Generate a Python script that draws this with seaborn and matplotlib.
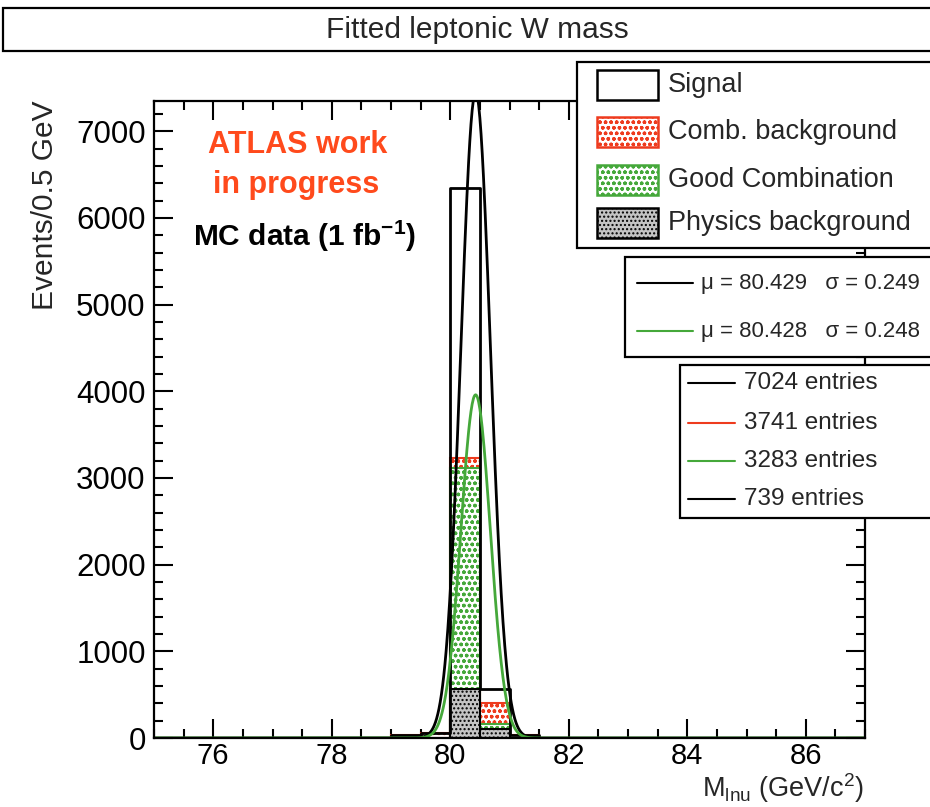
import numpy as np
import pandas as pd
import matplotlib
matplotlib.use("Agg")
import matplotlib.pyplot as plt
import seaborn as sns
from matplotlib.patches import Rectangle
from matplotlib.lines import Line2D

# ---------------- data ----------------
bin_edges = [78.5, 79.0, 79.5, 80.0, 80.5, 81.0, 81.5, 82.0]
signal_counts = [0, 35, 55, 6350, 565, 30, 0]
comb_counts = [0, 35, 55, 3230, 400, 30, 0]
good_counts = [0, 0, 0, 3120, 165, 0, 0]
phys_counts = [0, 0, 0, 565, 100, 0, 0]

fit_mu = [80.429, 80.428]
fit_sigma = [0.249, 0.248]
fit_amp = [7450, 3960]
fit_labels = ["μ = 80.429   σ = 0.249", "μ = 80.428   σ = 0.248"]

entry_counts = [7024, 3741, 3283, 739]
legend_names = ["Signal", "Comb. background", "Good Combination", "Physics background"]

x_ticks = [76, 78, 80, 82, 84, 86]
y_ticks = [0, 1000, 2000, 3000, 4000, 5000, 6000, 7000]

RED = "#ee3b1e"
GREEN = "#45a83a"
ORANGE = "#ff4a1c"

# ---------------- style ----------------
sns.set_theme(style="ticks")
plt.rcParams["font.family"] = ["Liberation Sans", "DejaVu Sans"]
plt.rcParams["mathtext.fontset"] = "custom"
plt.rcParams["mathtext.rm"] = "Liberation Sans"
plt.rcParams["mathtext.bf"] = "Liberation Sans:bold"
plt.rcParams["hatch.linewidth"] = 1.0

W, H = 930, 807
fig = plt.figure(figsize=(W / 100, H / 100), dpi=100)
ax = fig.add_axes([154 / W, 1 - 738 / H, (865 - 154) / W, (738 - 101) / H])


def P(x, y):
    return (x / W, 1 - y / H)


edges = np.array(bin_edges)
centers = (edges[:-1] + edges[1:]) / 2

PHYS_FACE = "#c4c4c4"


def hist_bars(counts, face, edge, hatch, lw):
    n0 = len(ax.patches)
    df = pd.DataFrame({"m": centers, "w": counts})
    sns.histplot(data=df, x="m", weights="w", bins=bin_edges, element="bars",
                 fill=True, ax=ax, legend=False)
    for p in ax.patches[n0:]:
        if p.get_height() <= 0:
            p.set_visible(False)
            continue
        p.set_facecolor(face)
        p.set_edgecolor(edge)
        p.set_hatch(hatch)
        p.set_linewidth(lw)
        p.set_alpha(1)


# Signal outline
df_sig = pd.DataFrame({"m": centers, "w": signal_counts})
sns.histplot(data=df_sig, x="m", weights="w", bins=bin_edges, element="step",
             fill=False, color="black", linewidth=2.0, ax=ax, legend=False)

# comb background (red), good combination (green), physics background (grey)
hist_bars(comb_counts, "white", RED, "ooo", 1.5)
hist_bars(good_counts, "white", GREEN, "ooo", 1.5)
hist_bars(phys_counts, PHYS_FACE, "black", "....", 1.5)

# Gaussian fit curves from the fitted parameters
xs = np.linspace(75, 87, 1201)
for mu, sg, a, col in zip(fit_mu, fit_sigma, fit_amp, ["black", GREEN]):
    ys = a * np.exp(-0.5 * ((xs - mu) / sg) ** 2)
    sns.lineplot(x=xs, y=ys, color=col, linewidth=2.0, ax=ax, legend=False)

# ---------------- axes ----------------
ax.set_xlim(75, 87)
ax.set_ylim(0, 7350)
ax.set_xticks(x_ticks)
ax.set_xticklabels([str(t) for t in x_ticks])
ax.set_yticks(y_ticks)
ax.set_yticklabels([str(t) for t in y_ticks])
ax.set_xticks(np.arange(75, 87.01, 0.5), minor=True)
ax.set_yticks(np.arange(0, 7351, 200), minor=True)
ax.tick_params(which="both", direction="in", top=True, right=True,
               width=1.5, colors="black")
ax.tick_params(which="major", length=14)
ax.tick_params(axis="y", which="major", labelsize=22.5, pad=6)
ax.tick_params(axis="x", which="major", labelsize=21, pad=3)
ax.tick_params(which="minor", length=6.5)
for s in ax.spines.values():
    s.set_linewidth(1.6)
    s.set_color("black")
ax.set_xlabel("")
ax.set_ylabel("")
ax.set_facecolor("white")

fig.text(*P(45, 100), "Events/0.5 GeV", rotation=90, ha="center", va="top",
         fontsize=21.5)
fig.text(*P(864, 797), r"M$_{\mathrm{lnu}}$ (GeV/c$^{2}$)", ha="right",
         va="baseline", fontsize=19.5)

# ---------------- title box ----------------
fig.add_artist(Rectangle(P(3, 51), 950 / W, 43 / H, transform=fig.transFigure,
                         facecolor="white", edgecolor="black", lw=1.6,
                         clip_on=False))
fig.text(*P(477, 30), "Fitted leptonic W mass", ha="center", va="center",
         fontsize=21.5)

# ---------------- annotations ----------------
fig.text(*P(298, 145), "ATLAS work", ha="center", va="center", fontsize=22,
         fontweight="bold", color=ORANGE)
fig.text(*P(296, 185), "in progress", ha="center", va="center", fontsize=22,
         fontweight="bold", color=ORANGE)
fig.text(*P(193, 236), r"MC data (1 fb$^{\mathbf{-1}}$)", ha="left",
         va="center", fontsize=21.5, fontweight="bold", color="black")

# ---------------- legend box 1 ----------------
fig.add_artist(Rectangle(P(577, 248), 400 / W, 186 / H, transform=fig.transFigure,
                         facecolor="white", edgecolor="black", lw=1.6, clip_on=False))
leg_styles = [("white", "black", None), ("white", RED, "ooo"),
              ("white", GREEN, "ooo"), (PHYS_FACE, "black", "....")]
leg_y = [85, 132, 180, 223]
for name, (fc, ec, hatch), yc in zip(legend_names, leg_styles, leg_y):
    fig.add_artist(Rectangle(P(597, yc + 15), 61 / W, 30 / H,
                             transform=fig.transFigure, facecolor=fc,
                             edgecolor=ec, hatch=hatch, lw=1.8))
    fig.text(*P(668, yc), name, ha="left", va="center", fontsize=19.5)

# ---------------- fit box ----------------
fig.add_artist(Rectangle(P(625, 357), 400 / W, 100 / H, transform=fig.transFigure,
                         facecolor="white", edgecolor="black", lw=1.6, clip_on=False))
for lab, col, yc in zip(fit_labels, ["black", GREEN], [283, 331]):
    fig.add_artist(Line2D([637 / W, 693 / W], [1 - yc / H, 1 - yc / H],
                          transform=fig.transFigure, color=col, lw=1.5))
    fig.text(*P(701, yc), lab, ha="left", va="center", fontsize=16)

# ---------------- entries box ----------------
fig.add_artist(Rectangle(P(680, 518), 400 / W, 153 / H, transform=fig.transFigure,
                         facecolor="white", edgecolor="black", lw=1.6, clip_on=False))
for n, col, yc in zip(entry_counts, ["black", RED, GREEN, "black"],
                      [383, 423, 461, 499]):
    fig.add_artist(Line2D([688 / W, 735 / W], [1 - yc / H, 1 - yc / H],
                          transform=fig.transFigure, color=col, lw=1.5))
    fig.text(*P(744, yc), f"{n} entries", ha="left", va="center", fontsize=17.5)

fig.savefig("out.png", dpi=100, facecolor="white")
